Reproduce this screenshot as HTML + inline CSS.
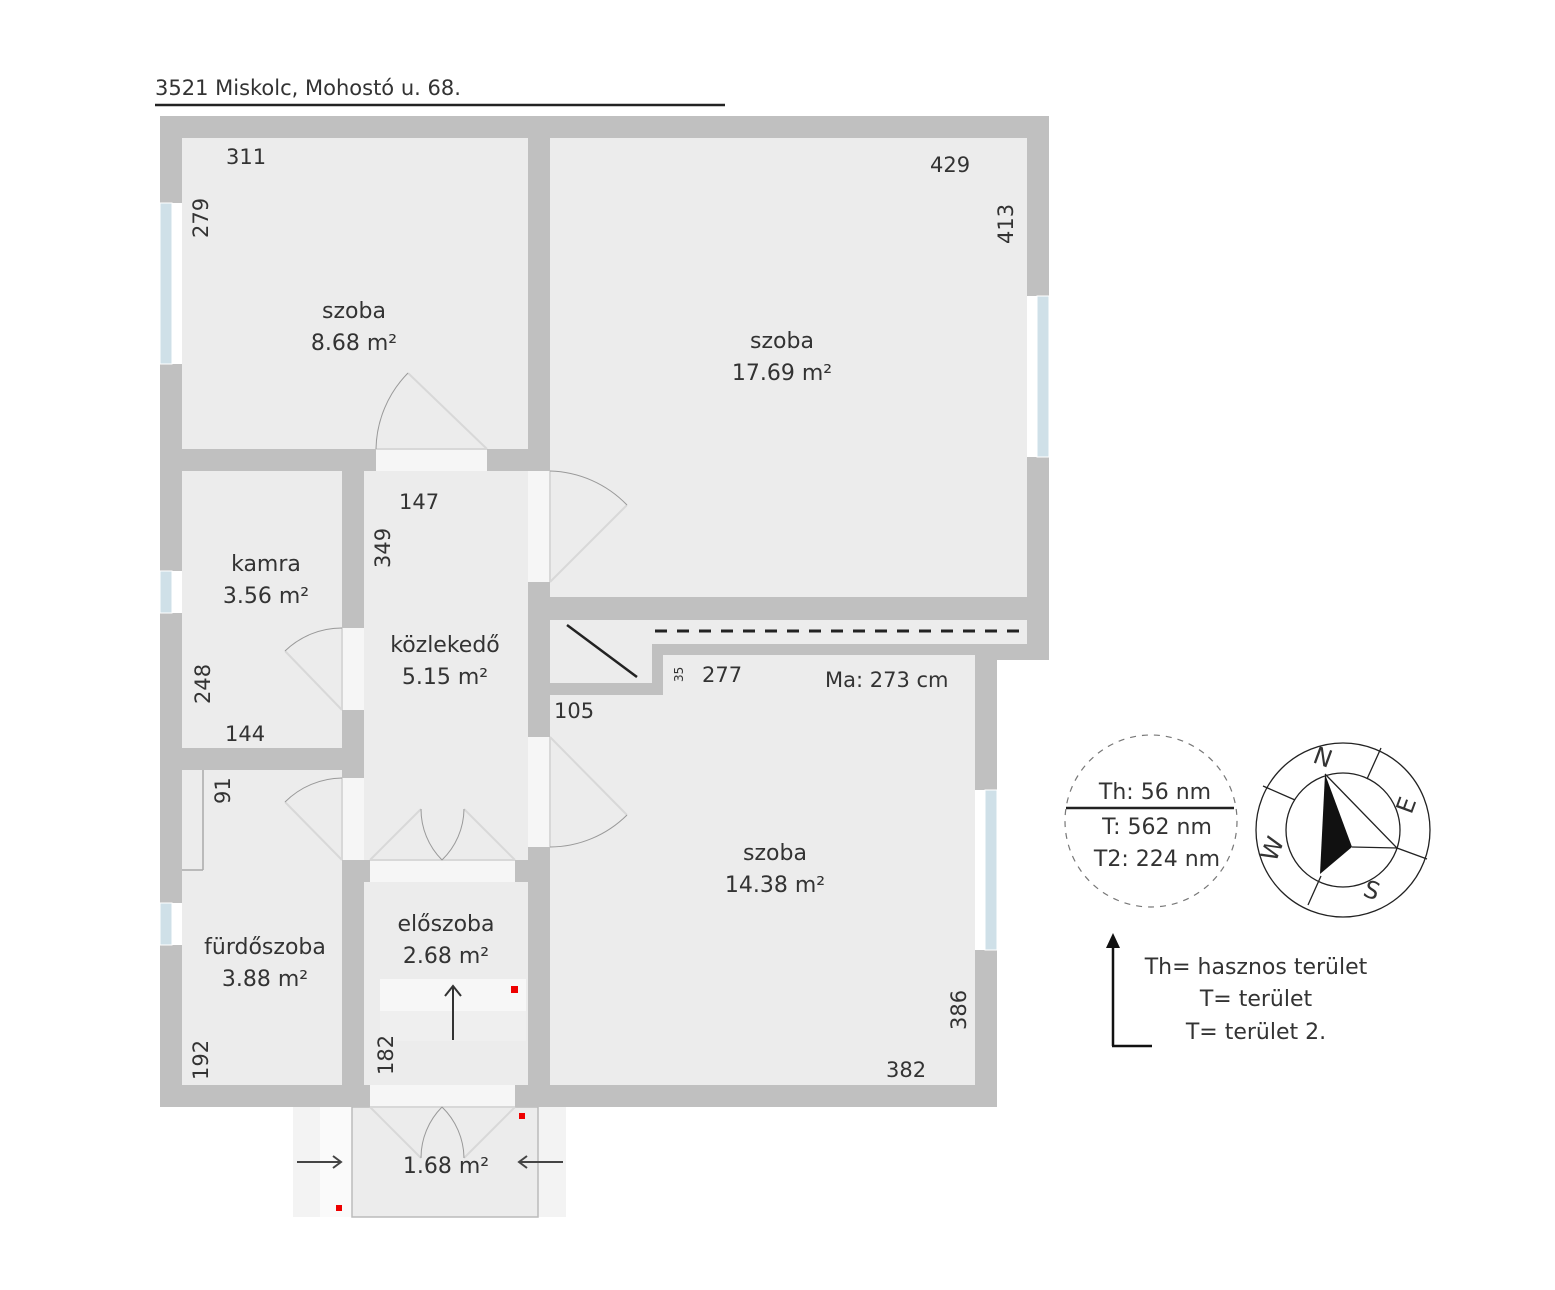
<!DOCTYPE html>
<html><head><meta charset="utf-8"><style>
html,body{margin:0;padding:0;background:#fff;}
svg{display:block}
text{font-family:"DejaVu Sans","Liberation Sans",sans-serif;fill:#333;}
</style></head><body>
<svg width="1555" height="1290" viewBox="0 0 1555 1290" xmlns="http://www.w3.org/2000/svg">
<text x="155" y="95" font-size="21">3521 Miskolc, Mohostó u. 68.</text>
<line x1="155" y1="105" x2="725" y2="105" stroke="#222" stroke-width="2.5"/>

<rect x="293" y="1107" width="59" height="110" fill="#f3f3f3"/>
<rect x="538" y="1107" width="28" height="110" fill="#f3f3f3"/>
<rect x="320" y="1107" width="32" height="110" fill="#fafafa"/>
<rect x="515" y="1107" width="23" height="110" fill="#fafafa"/>
<rect x="352" y="1107" width="186" height="110" fill="#ececec" stroke="#bbb" stroke-width="1.5"/>

<g fill="#c0c0c0">
<rect x="160" y="116" width="889" height="22"/>
<rect x="160" y="116" width="22" height="991"/>
<rect x="1027" y="116" width="22" height="544"/>
<rect x="528" y="116" width="22" height="991"/>
<rect x="160" y="449" width="390" height="22"/>
<rect x="528" y="597" width="521" height="23"/>
<rect x="342" y="449" width="22" height="658"/>
<rect x="160" y="748" width="204" height="22"/>
<rect x="342" y="860" width="208" height="22"/>
<rect x="160" y="1085" width="837" height="22"/>
<rect x="975" y="640" width="22" height="467"/>
<rect x="975" y="640" width="74" height="20"/>
</g>

<g fill="#ececec">
<rect x="182" y="138" width="346" height="311"/>
<rect x="550" y="138" width="477" height="459"/>
<rect x="182" y="471" width="160" height="277"/>
<rect x="364" y="471" width="164" height="389"/>
<rect x="182" y="770" width="160" height="315"/>
<rect x="364" y="882" width="164" height="203"/>
<rect x="550" y="655" width="425" height="430"/>
<rect x="550" y="620" width="477" height="24"/>
<rect x="550" y="620" width="102" height="63"/>
</g>
<g fill="#c0c0c0">
<rect x="528" y="683" width="135" height="12"/>
<rect x="652" y="644" width="11" height="51"/>
<rect x="652" y="644" width="338" height="11"/>
</g>
<line x1="203" y1="770" x2="203" y2="870" stroke="#aaa" stroke-width="1.5"/>
<line x1="182" y1="870" x2="203" y2="870" stroke="#aaa" stroke-width="1.5"/>

<g fill="#cfe0e8" stroke="#fff" stroke-width="1">
<rect x="160" y="203" width="12" height="161"/>
<rect x="160" y="571" width="12" height="42"/>
<rect x="160" y="903" width="12" height="42"/>
<rect x="1037" y="296" width="12" height="161"/>
<rect x="985" y="790" width="12" height="160"/>
</g>
<g fill="#fff">
<rect x="172" y="203" width="10" height="161"/>
<rect x="172" y="571" width="10" height="42"/>
<rect x="172" y="903" width="10" height="42"/>
<rect x="1027" y="296" width="10" height="161"/>
<rect x="975" y="790" width="10" height="160"/>
</g>

<g fill="#f6f6f6">
<rect x="376" y="449" width="111" height="22"/>
<rect x="528" y="471" width="22" height="111"/>
<rect x="342" y="628" width="22" height="82"/>
<rect x="342" y="778" width="22" height="82"/>
<rect x="528" y="737" width="22" height="110"/>
<rect x="370" y="860" width="145" height="22"/>
<rect x="370" y="1085" width="145" height="22"/>
</g>
<g fill="none" stroke="#d8d8d8" stroke-width="2">
<line x1="376" y1="449" x2="487" y2="449"/>
<line x1="550" y1="471" x2="550" y2="582"/>
<line x1="342" y1="628" x2="342" y2="710"/>
<line x1="342" y1="778" x2="342" y2="860"/>
<line x1="550" y1="737" x2="550" y2="847"/>
<line x1="370" y1="860" x2="515" y2="860"/>
<line x1="370" y1="1107" x2="515" y2="1107"/>
<line x1="487" y1="449" x2="408" y2="373"/>
<line x1="550" y1="582" x2="627" y2="505"/>
<line x1="342" y1="710" x2="285" y2="651"/>
<line x1="342" y1="860" x2="285" y2="802"/>
<line x1="550" y1="737" x2="627" y2="815"/>
<line x1="370" y1="860" x2="421" y2="809"/>
<line x1="515" y1="860" x2="464" y2="809"/>
<line x1="370" y1="1107" x2="421" y2="1158"/>
<line x1="515" y1="1107" x2="464" y2="1158"/>
</g>
<g fill="none" stroke="#999" stroke-width="1">
<path d="M376 449 A111 111 0 0 1 408 373"/>
<path d="M550 471 A111 111 0 0 1 627 505"/>
<path d="M342 628 A82 82 0 0 0 285 651"/>
<path d="M342 778 A82 82 0 0 0 285 802"/>
<path d="M550 847 A110 110 0 0 0 627 815"/>
<path d="M442 860 A72 72 0 0 1 421 809"/>
<path d="M442 860 A72 72 0 0 0 464 809"/>
<path d="M442 1107 A72 72 0 0 0 421 1158"/>
<path d="M442 1107 A72 72 0 0 1 464 1158"/>
</g>

<rect x="380" y="979" width="146" height="32" fill="#f7f7f7"/>
<rect x="380" y="1011" width="146" height="30" fill="#efefef"/>
<line x1="453" y1="1040" x2="453" y2="986" stroke="#333" stroke-width="2"/>
<path d="M445 996 L453 986 L461 996" fill="none" stroke="#333" stroke-width="2"/>
<g fill="#e00">
<rect x="511" y="986" width="7" height="7"/>
<rect x="519" y="1113" width="6" height="6"/>
<rect x="336" y="1205" width="6" height="6"/>
</g>
<g stroke="#444" stroke-width="2" fill="none">
<line x1="297" y1="1162" x2="340" y2="1162"/><path d="M333 1156 L341 1162 L333 1168"/>
<line x1="563" y1="1162" x2="520" y2="1162"/><path d="M527 1156 L519 1162 L527 1168"/>
</g>

<line x1="567" y1="625" x2="637" y2="677" stroke="#222" stroke-width="2.5"/>
<line x1="655" y1="631" x2="1025" y2="631" stroke="#222" stroke-width="3" stroke-dasharray="12,10"/>

<g font-size="22" text-anchor="middle">
<text x="354" y="318">szoba</text><text x="354" y="350">8.68 m²</text>
<text x="782" y="348">szoba</text><text x="782" y="380">17.69 m²</text>
<text x="266" y="571">kamra</text><text x="266" y="603">3.56 m²</text>
<text x="445" y="652">közlekedő</text><text x="445" y="684">5.15 m²</text>
<text x="775" y="860">szoba</text><text x="775" y="892">14.38 m²</text>
<text x="265" y="954">fürdőszoba</text><text x="265" y="986">3.88 m²</text>
<text x="446" y="931">előszoba</text><text x="446" y="963">2.68 m²</text>
<text x="446" y="1173">1.68 m²</text>
</g>
<g font-size="21">
<text x="226" y="164">311</text>
<text x="930" y="172">429</text>
<text x="399" y="509">147</text>
<text x="225" y="741">144</text>
<text x="554" y="718">105</text>
<text x="702" y="682">277</text>
<text x="825" y="687">Ma: 273 cm</text>
<text x="886" y="1077">382</text>
<text transform="translate(208,238) rotate(-90)">279</text>
<text transform="translate(1013,244) rotate(-90)">413</text>
<text transform="translate(390,568) rotate(-90)">349</text>
<text transform="translate(210,704) rotate(-90)">248</text>
<text transform="translate(230,804) rotate(-90)">91</text>
<text transform="translate(208,1080) rotate(-90)">192</text>
<text transform="translate(393,1075) rotate(-90)">182</text>
<text transform="translate(966,1030) rotate(-90)">386</text>
</g>
<text transform="translate(683,682) rotate(-90)" font-size="12">35</text>

<circle cx="1151" cy="821" r="86" fill="none" stroke="#777" stroke-width="1.2" stroke-dasharray="6,6"/>
<line x1="1066" y1="808" x2="1234" y2="808" stroke="#222" stroke-width="2.5"/>
<g font-size="22" text-anchor="middle">
<text x="1155" y="799">Th: 56 nm</text>
<text x="1157" y="834">T: 562 nm</text>
<text x="1157" y="866">T2: 224 nm</text>
</g>

<g fill="none" stroke="#222" stroke-width="1.3">
<circle cx="1343" cy="830" r="87"/>
<circle cx="1343" cy="830" r="57"/>
<line x1="1295" y1="800" x2="1263" y2="786"/>
<line x1="1367" y1="779" x2="1381" y2="748"/>
<line x1="1397" y1="848" x2="1427" y2="859"/>
<line x1="1321" y1="876" x2="1308" y2="905"/>
<path d="M1325 774 L1397 848 L1352 847"/>
</g>
<path d="M1325 774 L1352 847 L1320 874 Z" fill="#111"/>
<g font-size="24" text-anchor="middle">
<text transform="translate(1320,765) rotate(20)">N</text>
<text transform="translate(1414,808) rotate(-70)">E</text>
<text transform="translate(1369,898) rotate(20)">S</text>
<text transform="translate(1280,852) rotate(-68)">W</text>
</g>

<line x1="1113" y1="948" x2="1113" y2="1046" stroke="#111" stroke-width="2.5"/>
<line x1="1112" y1="1046" x2="1152" y2="1046" stroke="#111" stroke-width="2.5"/>
<path d="M1106 948 L1113 933 L1120 948 Z" fill="#111"/>
<g font-size="22" text-anchor="middle">
<text x="1256" y="974">Th= hasznos terület</text>
<text x="1256" y="1006">T= terület</text>
<text x="1256" y="1039">T= terület 2.</text>
</g>
</svg>
</body></html>
